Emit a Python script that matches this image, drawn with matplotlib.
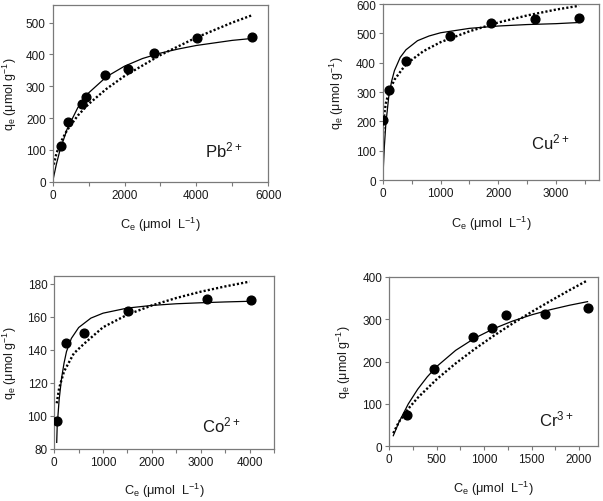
import matplotlib
matplotlib.use('Agg')
import matplotlib.pyplot as plt
from matplotlib.ticker import MultipleLocator

pb_ce = [222, 417, 807, 927, 1465, 2096, 2810, 4025, 5555]
pb_qe = [113, 187, 244, 265, 335, 353, 403, 450, 453]
pb_fit1_ce = [15, 100, 200, 400, 700, 1000, 1500, 2000, 2500, 3000, 3500,
              4000, 4500, 5000, 5550]
pb_fit1_qe = [9, 54, 98, 165, 233, 279, 330, 363, 387, 404, 417, 428, 436,
              444, 450]
pb_fit2_ce = [30, 100, 200, 400, 700, 1000, 1500, 2000, 3000, 4000, 5000,
              5550]
pb_fit2_qe = [54, 87, 119, 162, 208, 244, 292, 332, 398, 453, 500, 523]

# Cu2+
cu_ce = [0, 110, 400, 1160, 1867, 2636, 3400]
cu_qe = [203, 306, 406, 490, 534, 550, 554]
cu_fit1_ce = [5, 10, 25, 50, 100, 150, 200, 300, 400, 600, 800, 1000, 1500,
              2000, 2500, 3000, 3400]
cu_fit1_qe = [27, 52, 114, 189, 282, 336, 373, 418, 444, 475, 491, 502, 517,
              525, 530, 533, 537]
cu_fit2_ce = [4, 10, 25, 50, 100, 200, 400, 700, 1000, 1500, 2000, 2500,
              3000, 3400]
cu_fit2_qe = [159, 190, 227, 261, 298, 342, 395, 439, 470, 507, 537, 561,
              581, 594]

# Co2+
co_ce = [62, 241, 600, 1503, 3124, 4021]
co_qe = [97, 144, 150, 163.6, 171.1, 170.5]
co_fit1_ce = [50, 60, 100, 150, 200, 250, 350, 500, 750, 1000, 1500, 2000,
              2500, 3000, 3500, 4000]
co_fit1_qe = [84, 94, 110, 123, 132, 139, 147, 153.6, 159.3, 162.3, 165.4,
              167, 168, 168.6, 169.1, 169.5]
co_fit2_ce = [50, 100, 200, 400, 600, 1000, 1500, 2000, 2500, 3000, 3500,
              4000]
co_fit2_qe = [107.7, 116.9, 127, 137.9, 143.5, 153.8, 161.4, 167, 171.5,
              175.3, 178.5, 181.4]

# Cr3+
cr_ce = [184, 475, 887, 1081, 1229, 1637, 2091]
cr_qe = [74, 183, 257, 279, 310, 312.5, 326]
cr_fit1_ce = [42, 100, 200, 300, 400, 500, 700, 900, 1100, 1300, 1500,
              1700, 1900, 2090]
cr_fit1_qe = [25, 56, 100, 135, 164, 188.5, 226.7, 255.4, 277.8, 295.8,
              310.5, 322.8, 333.2, 341.7]
cr_fit2_ce = [42, 100, 200, 300, 500, 700, 900, 1100, 1300, 1500, 1700,
              1900, 2090]
cr_fit2_qe = [31, 57, 88.7, 114.7, 158.4, 195.9, 229.7, 261, 290, 317.5,
              343.5, 368.9, 392]

ions = ['Pb$^{2+}$', 'Cu$^{2+}$', 'Co$^{2+}$', 'Cr$^{3+}$']

SPINE = '#7a7a7a'


def draw_panel(ax, ce, qe, f1c, f1q, f2c, f2q, ion, xlim, ylim, xmaj, xmin,
               ymaj, ion_pos, ylab_x, xlab_y):
    ax.plot(f1c, f1q, color='black', lw=0.9, zorder=2)
    ax.plot(f2c, f2q, color='black', lw=1.7, linestyle=(0, (0.9, 0.9)),
            dash_capstyle='butt', zorder=2)
    ax.plot(ce, qe, 'o', color='black', ms=6.3, zorder=3)

    ax.set_xlim(*xlim)
    ax.set_ylim(*ylim)
    ax.xaxis.set_major_locator(MultipleLocator(xmaj))
    ax.xaxis.set_minor_locator(MultipleLocator(xmin))
    ax.yaxis.set_major_locator(MultipleLocator(ymaj))

    for s in ax.spines.values():
        s.set_color(SPINE)
        s.set_linewidth(0.9)
    ax.tick_params(which='both', direction='out', color=SPINE, width=0.8,
                   labelsize=8.5, labelcolor='#1a1a1a', pad=2)
    ax.tick_params(which='major', length=3)
    ax.tick_params(which='minor', length=3)

    ax.set_xlabel('C$_e$ (\u03bcmol  L$^{-1}$)', fontsize=9.2,
                  color='#1a1a1a')
    ax.set_ylabel('q$_e$ (\u03bcmol g$^{-1}$)', fontsize=9,
                  color='#1a1a1a')
    ax.yaxis.set_label_coords(ylab_x, 0.5)
    ax.xaxis.set_label_coords(0.5, xlab_y)

    ax.text(ion_pos[0], ion_pos[1], ion, transform=ax.transAxes,
            fontsize=12, ha='left', va='baseline', color='#1a1a1a')


def main():
    plt.rcParams['font.family'] = ['Liberation Sans', 'DejaVu Sans']
    plt.rcParams['mathtext.default'] = 'regular'

    fig = plt.figure(figsize=(6.03, 5.02), dpi=100)

    ax1 = fig.add_axes([0.0874, 0.636, 0.3575, 0.352])
    ax2 = fig.add_axes([0.635, 0.6394, 0.3587, 0.3506])
    ax3 = fig.add_axes([0.090, 0.1036, 0.3643, 0.3452])
    ax4 = fig.add_axes([0.6456, 0.109, 0.3461, 0.3373])

    draw_panel(ax1, pb_ce, pb_qe, pb_fit1_ce, pb_fit1_qe, pb_fit2_ce,
               pb_fit2_qe, ions[0], (0, 6000), (0, 555), 2000, 1000, 100,
               (0.706, 0.145), -0.158, -0.188)
    draw_panel(ax2, cu_ce, cu_qe, cu_fit1_ce, cu_fit1_qe, cu_fit2_ce,
               cu_fit2_qe, ions[1], (0, 3750), (0, 600), 1000, 500, 100,
               (0.685, 0.18), -0.172, -0.193)
    draw_panel(ax3, co_ce, co_qe, co_fit1_ce, co_fit1_qe, co_fit2_ce,
               co_fit2_qe, ions[2], (0, 4500), (80, 185), 1000, 500, 20,
               (0.671, 0.102), -0.162, -0.183)
    draw_panel(ax4, cr_ce, cr_qe, cr_fit1_ce, cr_fit1_qe, cr_fit2_ce,
               cr_fit2_qe, ions[3], (0, 2200), (0, 400), 500, 250, 100,
               (0.719, 0.122), -0.174, -0.193)

    fig.savefig('out.png', dpi=100, facecolor='white')


if __name__ == '__main__':
    main()
